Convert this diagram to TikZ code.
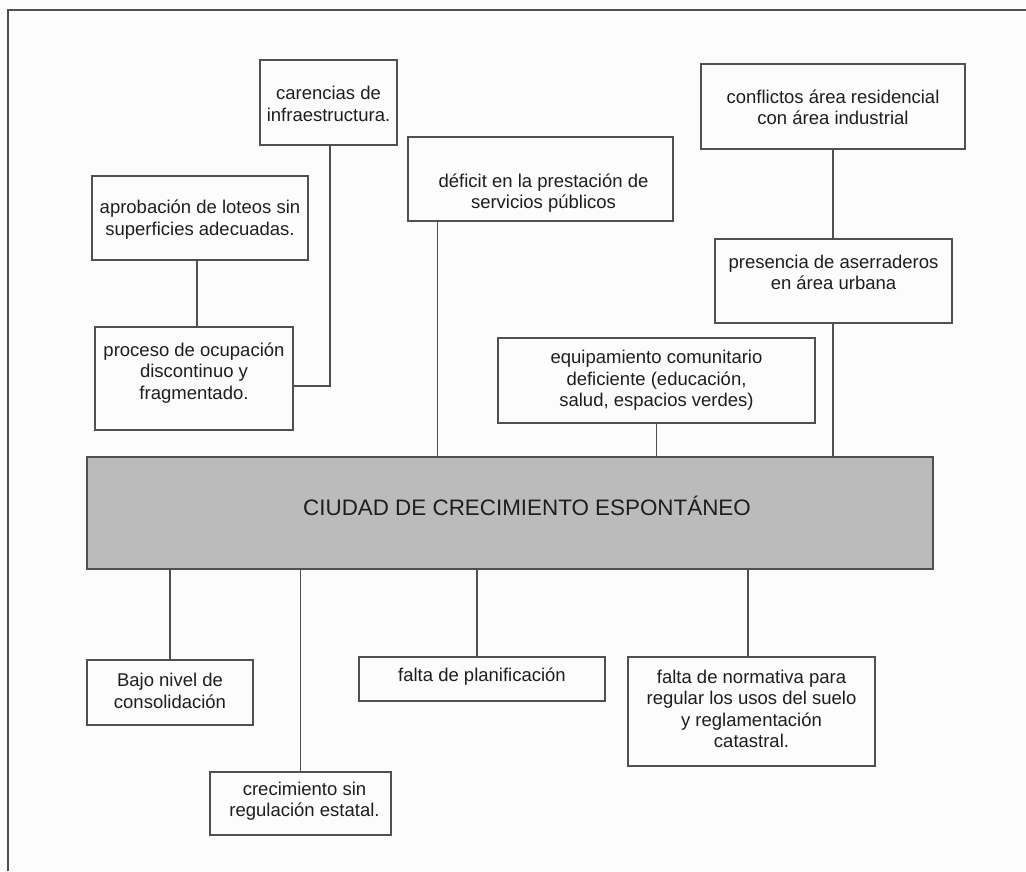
\documentclass[tikz,border=0pt]{standalone}
\usepackage{fontspec}
\setmainfont{Liberation Sans}
\definecolor{linec}{HTML}{505050}
\definecolor{bgc}{HTML}{FCFCFC}
\definecolor{mainfill}{HTML}{BBBBBB}
\definecolor{txtc}{HTML}{1E1E1E}
\begin{document}
\begin{tikzpicture}[x=1pt,y=-1pt,
  box/.style={draw=linec, line width=1.2pt, rectangle, inner sep=0pt},
  txt/.style={align=center, text=txtc, inner sep=0pt, font=\fontsize{18.5}{21.5}\selectfont},
  maintxt/.style={text=txtc, inner sep=0pt, font=\fontsize{22.4}{26}\selectfont},
  conn/.style={draw=linec, line width=1.2pt}]
\useasboundingbox (0,0) rectangle (1026,871);
\fill[bgc] (0,0) rectangle (1026,871);
% outer frame (left and top sides)
\draw[linec, line width=1.2pt] (8,871) -- (8,10) -- (1026,10);

% upper boxes
\node[box, minimum width=137pt, minimum height=85pt,
  label={[txt, yshift=-1.5pt]center:{carencias de\\infraestructura.}}] (carencias) at (328.5,102.5) {};
\node[box, minimum width=216pt, minimum height=84pt,
  label={[txt, yshift=-1.5pt]center:{aprobación de loteos sin\\superficies adecuadas.}}] (aprobacion) at (200,218) {};
\node[box, minimum width=198pt, minimum height=103pt,
  label={[txt, yshift=5.5pt]center:{proceso de ocupación\\discontinuo y\\fragmentado.}}] (proceso) at (194,378.5) {};
\node[box, minimum width=265pt, minimum height=84pt,
  label={[txt, yshift=-14pt, xshift=3pt]center:{déficit en la prestación de\\servicios públicos}}] (deficit) at (540.5,179) {};
\node[box, minimum width=264pt, minimum height=85pt,
  label={[txt, yshift=-1pt]center:{conflictos área residencial\\con área industrial}}] (conflictos) at (833,106.5) {};
\node[box, minimum width=237pt, minimum height=84pt,
  label={[txt, yshift=8.5pt]center:{presencia de aserraderos\\en área urbana}}] (presencia) at (833.5,281) {};
\node[box, minimum width=317pt, minimum height=85pt,
  label={[txt, yshift=0pt]center:{equipamiento comunitario\\deficiente (educación,\\salud, espacios verdes)}}] (equipamiento) at (656.5,380.5) {};

% main box
\node[box, fill=mainfill, minimum width=846pt, minimum height=112pt,
  label={[maintxt, yshift=7pt, xshift=17pt]center:{CIUDAD DE CRECIMIENTO ESPONTÁNEO}}] (main) at (510,513) {};

% lower boxes
\node[box, minimum width=166pt, minimum height=65pt,
  label={[txt, yshift=1.5pt]center:{Bajo nivel de\\consolidación}}] (bajo) at (170,692.5) {};
\node[box, minimum width=181pt, minimum height=63pt,
  label={[txt, yshift=2.5pt, xshift=4pt]center:{crecimiento sin\\regulación estatal.}}] (crecimiento) at (300.5,803.5) {};
\node[box, minimum width=246pt, minimum height=44pt,
  label={[txt, yshift=2pt]center:{falta de planificación}}] (plan) at (482,679) {};
\node[box, minimum width=247pt, minimum height=109pt,
  label={[txt, yshift=2.5pt]center:{falta de normativa para\\regular los usos del suelo\\y reglamentación\\catastral.}}] (normativa) at (751.5,711.5) {};

% connectors above
\draw[conn] ([xshift=-3pt]aprobacion.south) -- ([xshift=-3pt]aprobacion.south |- proceso.north);
\draw[conn] ([xshift=1.5pt]carencias.south) |- ([yshift=-7.5pt]proceso.east);
\draw[conn] ([xshift=30pt]deficit.south west) -- ([xshift=30pt]deficit.south west |- main.north);
\draw[conn] (conflictos.south) -- (conflictos.south |- presencia.north);
\draw[conn] (conflictos.south |- presencia.south) -- (conflictos.south |- main.north);
\draw[conn] (equipamiento.south) -- (equipamiento.south |- main.north);

% connectors below
\draw[conn] (bajo.north |- main.south) -- (bajo.north);
\draw[conn] (crecimiento.north |- main.south) -- (crecimiento.north);
\draw[conn] ([xshift=-5pt]plan.north |- main.south) -- ([xshift=-5pt]plan.north);
\draw[conn] ([xshift=-3.5pt]normativa.north |- main.south) -- ([xshift=-3.5pt]normativa.north);
\end{tikzpicture}
\end{document}
